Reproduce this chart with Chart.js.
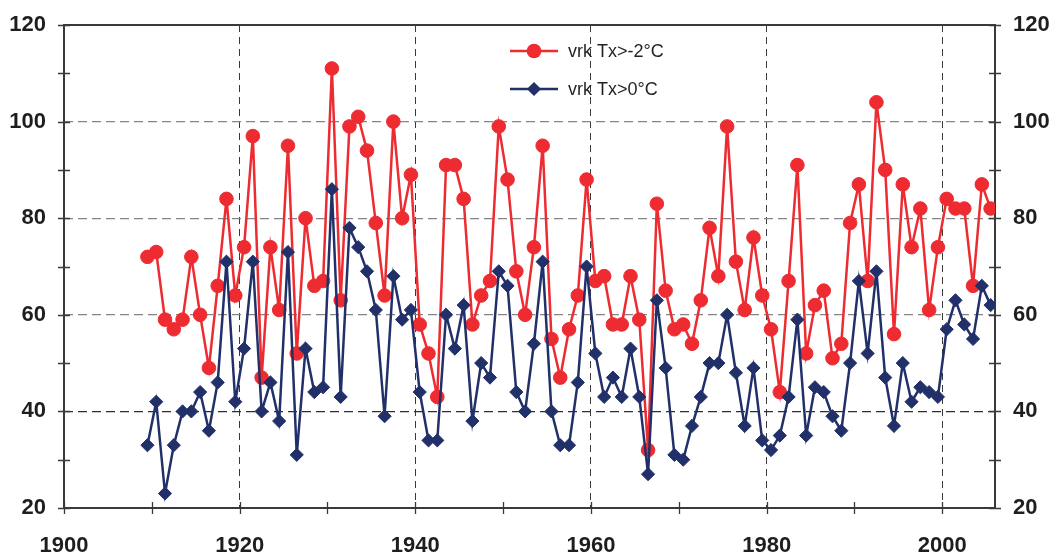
<!DOCTYPE html>
<html>
<head>
<meta charset="utf-8">
<script src="https://cdn.jsdelivr.net/npm/chart.js@4.4.1/dist/chart.umd.min.js"></script>
<style>
html,body{margin:0;padding:0;background:#fff;}
canvas{display:block;}
</style>
</head>
<body>
<canvas id="c" width="1053" height="552"></canvas>
<script>
// Winter season start years (points sit mid-season)
const seasons = [
  1909,1910,1911,1912,1913,1914,1915,1916,1917,1918,
  1919,1920,1921,1922,1923,1924,1925,1926,1927,1928,
  1929,1930,1931,1932,1933,1934,1935,1936,1937,1938,
  1939,1940,1941,1942,1943,1944,1945,1946,1947,1948,
  1949,1950,1951,1952,1953,1954,1955,1956,1957,1958,
  1959,1960,1961,1962,1963,1964,1965,1966,1967,1968,
  1969,1970,1971,1972,1973,1974,1975,1976,1977,1978,
  1979,1980,1981,1982,1983,1984,1985,1986,1987,1988,
  1989,1990,1991,1992,1993,1994,1995,1996,1997,1998,
  1999,2000,2001,2002,2003,2004,2005
];
const daysTxAboveMinus2 = [
  72,73,59,57,59,72,60,49,66,84,
  64,74,97,47,74,61,95,52,80,66,
  67,111,63,99,101,94,79,64,100,80,
  89,58,52,43,91,91,84,58,64,67,
  99,88,69,60,74,95,55,47,57,64,
  88,67,68,58,58,68,59,32,83,65,
  57,58,54,63,78,68,99,71,61,76,
  64,57,44,67,91,52,62,65,51,54,
  79,87,67,104,90,56,87,74,82,61,
  74,84,82,82,66,87,82
];
const daysTxAbove0 = [
  33,42,23,33,40,40,44,36,46,71,
  42,53,71,40,46,38,73,31,53,44,
  45,86,43,78,74,69,61,39,68,59,
  61,44,34,34,60,53,62,38,50,47,
  69,66,44,40,54,71,40,33,33,46,
  70,52,43,47,43,53,43,27,63,49,
  31,30,37,43,50,50,60,48,37,49,
  34,32,35,43,59,35,45,44,39,36,
  50,67,52,69,47,37,50,42,45,44,
  43,57,63,58,55,66,62
];
const seriesLabels = ['vrk Tx>-2°C', 'vrk Tx>0°C'];
const yTickLabels = [20, 40, 60, 80, 100, 120];
const xTickLabels = [1900, 1920, 1940, 1960, 1980, 2000];

const RED = '#ED2B30';
const BLUE = '#22306A';
const FONT = "'Liberation Sans', Arial, sans-serif";

const toPoints = vals => seasons.map((s, i) => ({ x: s + 0.5, y: vals[i] }));

const framePlugin = {
  id: 'frame',
  beforeDatasetsDraw(chart) {
    const { ctx, chartArea: a, scales } = chart;
    ctx.save();
    ctx.strokeStyle = '#3a3a3a';
    ctx.lineWidth = 2;
    ctx.strokeRect(a.left, a.top, a.right - a.left, a.bottom - a.top);
    ctx.lineWidth = 1.3;
    ctx.beginPath();
    scales.y.ticks.forEach(t => {
      const py = Math.round(scales.y.getPixelForValue(t.value)) + 0.5;
      ctx.moveTo(a.left - 6, py); ctx.lineTo(a.left + 6, py);
      ctx.moveTo(a.right - 6, py); ctx.lineTo(a.right + 6, py);
    });
    scales.x.ticks.forEach(t => {
      const px = Math.round(scales.x.getPixelForValue(t.value)) + 0.5;
      ctx.moveTo(px, a.bottom - 6); ctx.lineTo(px, a.bottom + 6);
    });
    ctx.stroke();
    ctx.restore();
  },
  afterDatasetsDraw(chart) {
    const { ctx, chartArea: a } = chart;
    const x0 = a.left + 446, x1 = a.left + 494, tx = a.left + 504;
    const rows = [a.top + 26, a.top + 64];
    ctx.save();
    chart.data.datasets.forEach((ds, i) => {
      const y = rows[i];
      ctx.strokeStyle = ds.borderColor;
      ctx.lineWidth = ds.borderWidth;
      ctx.beginPath(); ctx.moveTo(x0, y); ctx.lineTo(x1, y); ctx.stroke();
      const cx = (x0 + x1) / 2;
      ctx.fillStyle = ds.pointBackgroundColor;
      ctx.beginPath();
      if (ds.pointStyle === 'rectRot') {
        const r = ds.pointRadius + 0.5;
        ctx.moveTo(cx - r, y); ctx.lineTo(cx, y - r); ctx.lineTo(cx + r, y); ctx.lineTo(cx, y + r);
        ctx.closePath();
      } else {
        ctx.arc(cx, y, ds.pointRadius + 0.5, 0, Math.PI * 2);
      }
      ctx.fill();
      ctx.fillStyle = '#231f20';
      ctx.font = "18px " + FONT;
      ctx.textBaseline = 'middle';
      ctx.textAlign = 'left';
      ctx.fillText(ds.label, tx, y + 1);
    });
    ctx.restore();
  }
};

const yScale = (pos, drawGrid) => ({
  type: 'linear',
  position: pos,
  min: 20, max: 120,
  afterFit: s => {
    s.width = pos === 'left' ? 64 : 58;
    s.paddingTop = 0; s.paddingBottom = 0;
  },
  border: { display: false, dash: [9, 5] },
  grid: {
    drawOnChartArea: drawGrid,
    drawTicks: false,
    lineWidth: 1.3,
    color: c => {
      const v = c.tick ? c.tick.value : null;
      if (v === 40) return '#2e2e2e';
      if (v === 60 || v === 80 || v === 100) return '#858585';
      return 'rgba(0,0,0,0)';
    }
  },
  ticks: {
    stepSize: 10,
    padding: 18,
    autoSkip: false,
    color: '#1e1e1e',
    font: { family: FONT, size: 22, weight: 'bold' },
    callback: v => yTickLabels.includes(v) ? String(v) : ''
  }
});

new Chart(document.getElementById('c'), {
  type: 'line',
  data: {
    datasets: [
      {
        label: seriesLabels[0],
        data: toPoints(daysTxAboveMinus2),
        borderColor: RED,
        backgroundColor: RED,
        pointBackgroundColor: RED,
        pointBorderColor: RED,
        borderWidth: 2.5,
        pointRadius: 6.8,
        pointBorderWidth: 1,
        pointStyle: 'circle',
        tension: 0,
        order: 2
      },
      {
        label: seriesLabels[1],
        data: toPoints(daysTxAbove0),
        borderColor: BLUE,
        backgroundColor: BLUE,
        pointBackgroundColor: BLUE,
        pointBorderColor: BLUE,
        borderWidth: 2.5,
        pointRadius: 6.6,
        pointBorderWidth: 1,
        pointStyle: 'rectRot',
        tension: 0,
        order: 1
      }
    ]
  },
  options: {
    responsive: false,
    animation: false,
    devicePixelRatio: 1,
    layout: { autoPadding: false, padding: { top: 25, left: 0, right: 0, bottom: 0 } },
    plugins: { legend: { display: false }, tooltip: { enabled: false } },
    scales: {
      x: {
        type: 'linear',
        position: 'bottom',
        min: 1900, max: 2006,
        afterFit: s => { s.height = 44; s.paddingLeft = 0; s.paddingRight = 0; },
        border: { display: false, dash: [7, 5] },
        grid: {
          drawTicks: false,
          lineWidth: 1,
          color: c => {
            const v = c.tick ? c.tick.value : null;
            return (v !== null && v > 1900 && xTickLabels.includes(v)) ? '#3a3a3a' : 'rgba(0,0,0,0)';
          }
        },
        ticks: {
          stepSize: 10,
          includeBounds: false,
          autoSkip: false,
          maxRotation: 0,
          padding: 25,
          color: '#1e1e1e',
          font: { family: FONT, size: 22, weight: 'bold' },
          callback: v => xTickLabels.includes(v) ? String(v) : ''
        }
      },
      y: yScale('left', true),
      y2: yScale('right', false)
    }
  },
  plugins: [framePlugin]
});
</script>
</body>
</html>
